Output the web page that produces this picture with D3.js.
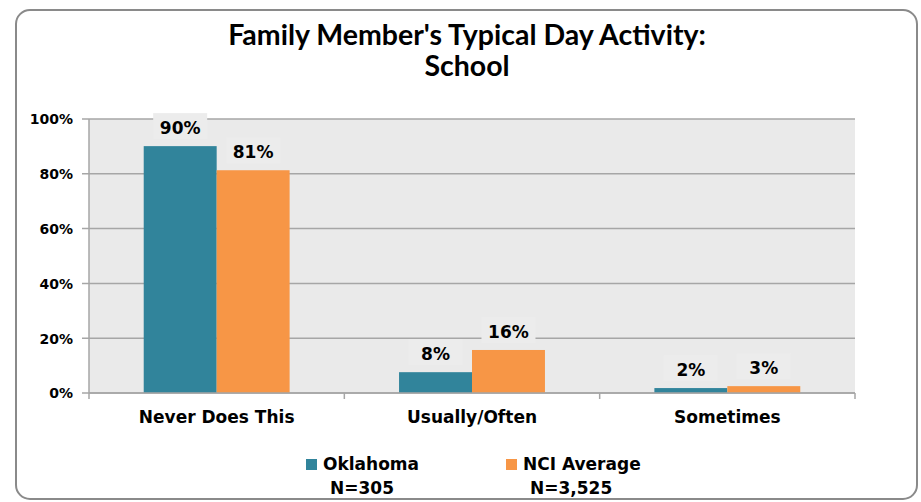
<!DOCTYPE html>
<html>
<head>
<meta charset="utf-8">
<script src="https://cdn.jsdelivr.net/npm/d3@7"></script>
<style>
  body { margin: 0; background: #fff; }
  svg { display: block; }
</style>
</head>
<body>
<div id="chart"></div>
<script>
// chart values
var categories = ["Never Does This", "Usually/Often", "Sometimes"];
var seriesNames = ["Oklahoma", "NCI Average"];
var seriesN = ["N=305", "N=3,525"];
var oklahoma = [90.1, 7.6, 1.8];
var nciAverage = [81.3, 15.7, 2.5];
var yTicks = [0, 20, 40, 60, 80, 100];
var colors = ["#31849B", "#F79646"];

var w = 921, h = 502;
var plot = { left: 89, right: 855, top: 119, bottom: 393 };
var labelFont = "'DejaVu Sans', Verdana, sans-serif";

var svg = d3.select("#chart").append("svg")
    .attr("width", w)
    .attr("height", h);

// outer rounded frame
svg.append("rect")
    .attr("x", 16).attr("y", 10)
    .attr("width", 901).attr("height", 489)
    .attr("rx", 14)
    .attr("fill", "#fff")
    .attr("stroke", "#8a8a8a")
    .attr("stroke-width", 2);

// title
var title = svg.append("text")
    .attr("text-anchor", "middle")
    .attr("font-family", "Lato, 'Open Sans', sans-serif")
    .attr("font-weight", "bold")
    .attr("font-size", 28.5)
    .attr("fill", "#000");
title.append("tspan").attr("x", 467).attr("y", 45).text("Family Member's Typical Day Activity:");
title.append("tspan").attr("x", 467).attr("y", 76).text("School");

var x0 = d3.scaleBand().domain(categories).range([plot.left, plot.right]).paddingInner(0).paddingOuter(0);
var x1 = d3.scaleBand().domain(seriesNames).range([0, x0.bandwidth()]).paddingInner(0).paddingOuter(0.75);
var y = d3.scaleLinear().domain([0, 100]).range([plot.bottom, plot.top]);

// plot background
svg.append("rect")
    .attr("x", plot.left).attr("y", plot.top)
    .attr("width", plot.right - plot.left).attr("height", plot.bottom - plot.top)
    .attr("fill", "#EAEAEA");

// gridlines
svg.append("g").selectAll("line")
    .data(yTicks)
    .enter().append("line")
    .attr("x1", plot.left - 7).attr("x2", plot.right)
    .attr("y1", d => y(d)).attr("y2", d => y(d))
    .attr("stroke", "#A6A6A6")
    .attr("stroke-width", 1.5);

// y axis
var yAxis = d3.axisLeft(y).tickValues(yTicks).tickFormat(d => d + "%").tickSize(0).tickPadding(16);
var gy = svg.append("g").attr("transform", "translate(" + plot.left + ",0)").call(yAxis);
gy.select(".domain").remove();
gy.selectAll("text")
    .attr("font-family", labelFont)
    .attr("font-weight", "bold")
    .attr("font-size", 14)
    .attr("fill", "#000")
    .attr("dy", "0.35em");
svg.append("line")
    .attr("x1", plot.left).attr("x2", plot.left)
    .attr("y1", plot.top).attr("y2", plot.bottom + 6)
    .attr("stroke", "#A6A6A6").attr("stroke-width", 1.5);

// x axis with ticks between categories
var xAxis = d3.axisBottom(x0).tickSize(0).tickPadding(18);
var gx = svg.append("g").attr("transform", "translate(0," + plot.bottom + ")").call(xAxis);
gx.select(".domain").remove();
gx.selectAll("text")
    .attr("font-family", labelFont)
    .attr("font-weight", "bold")
    .attr("font-size", 17)
    .attr("fill", "#000");
svg.append("g").selectAll("line")
    .data(categories)
    .enter().append("line")
    .attr("x1", d => x0(d) + x0.bandwidth()).attr("x2", d => x0(d) + x0.bandwidth())
    .attr("y1", plot.bottom).attr("y2", plot.bottom + 6)
    .attr("stroke", "#A6A6A6").attr("stroke-width", 1.5);

// bars
var rows = categories.map((c, i) => ({ cat: c, vals: [oklahoma[i], nciAverage[i]] }));
var groups = svg.append("g").selectAll("g")
    .data(rows)
    .enter().append("g")
    .attr("transform", d => "translate(" + x0(d.cat) + ",0)");

groups.selectAll("rect")
    .data(d => d.vals.map((v, j) => ({ s: seriesNames[j], v: v, j: j })))
    .enter().append("rect")
    .attr("x", d => x1(d.s))
    .attr("width", x1.bandwidth())
    .attr("y", d => y(d.v))
    .attr("height", d => y(0) - y(d.v))
    .attr("fill", d => colors[d.j]);

// bottom axis line over bars
svg.append("line")
    .attr("x1", plot.left).attr("x2", plot.right)
    .attr("y1", plot.bottom).attr("y2", plot.bottom)
    .attr("stroke", "#A6A6A6").attr("stroke-width", 1.5);

// value labels, boxes hide gridlines behind the text
var labels = groups.selectAll("g.lbl")
    .data(d => d.vals.map((v, j) => ({ s: seriesNames[j], v: v, j: j })))
    .enter().append("g").attr("class", "lbl");

labels.append("rect")
    .attr("x", d => x1(d.s) + x1.bandwidth() / 2 - 27)
    .attr("y", d => y(d.v) - 33)
    .attr("width", 54).attr("height", 26)
    .attr("fill", "#ECECEC");

labels.append("text")
    .attr("x", d => x1(d.s) + x1.bandwidth() / 2)
    .attr("y", d => y(d.v) - 12)
    .attr("text-anchor", "middle")
    .attr("font-family", labelFont)
    .attr("font-weight", "bold")
    .attr("font-size", 17)
    .attr("fill", "#000")
    .text(d => Math.round(d.v) + "%");

// legend
var legendX = [306, 506];
var legend = svg.append("g").selectAll("g")
    .data(seriesNames)
    .enter().append("g")
    .attr("transform", (d, i) => "translate(" + legendX[i] + ",0)");

legend.append("rect")
    .attr("x", 0).attr("y", 459)
    .attr("width", 11).attr("height", 11)
    .attr("fill", (d, i) => colors[i]);

legend.append("text")
    .attr("x", 17).attr("y", 470)
    .attr("font-family", labelFont)
    .attr("font-weight", "bold")
    .attr("font-size", 17)
    .attr("fill", "#000")
    .text(d => d);

legend.append("text")
    .attr("x", 24).attr("y", 494)
    .attr("font-family", labelFont)
    .attr("font-weight", "bold")
    .attr("font-size", 17)
    .attr("fill", "#000")
    .text((d, i) => seriesN[i]);
</script>
</body>
</html>
